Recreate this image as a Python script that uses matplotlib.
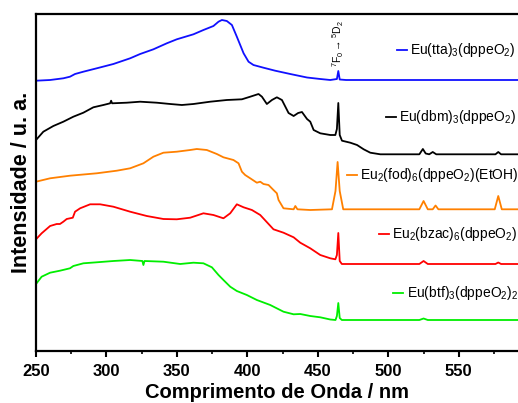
import numpy as np
import matplotlib
matplotlib.use("Agg")
import matplotlib.pyplot as plt
from matplotlib.ticker import MultipleLocator

plt.rcParams["font.family"] = ["Liberation Sans", "DejaVu Sans"]
plt.rcParams["mathtext.fontset"] = "custom"
plt.rcParams["mathtext.rm"] = "Liberation Sans"
plt.rcParams["mathtext.it"] = "Liberation Sans:italic"
plt.rcParams["mathtext.bf"] = "Liberation Sans:bold"

# emission spectra (stacked, arbitrary units)
wl_tta = [250, 260, 269.4, 274.1, 277.7, 283.6, 293.1, 304.9, 316.8, 323.9, 333.3,
          342.8, 349.9, 361.7, 368.8, 375.9, 379.5, 381.9, 385.4, 389, 392.5, 397.3,
          400.8, 404.3, 411.4, 419.7, 430.4, 442.3, 451.7, 458.8, 463.5, 464.5, 465.5,
          470, 520, 592]
I_tta = [270.3, 271, 272.7, 274.3, 277, 279.3, 282.7, 287, 292.7, 297, 301.7,
         307.7, 311.7, 316.7, 321, 325, 329.3, 331, 330, 326, 314.3, 297.7,
         289.3, 286, 283.3, 280.3, 277, 273.5, 272, 271, 272, 280, 271.5,
         271, 271, 271]

wl_dbm = [250, 255.2, 262.3, 269.4, 276.5, 283.6, 290.7, 297.8, 302.6, 303.3, 304,
          314.4, 323.9, 335.7, 345.2, 353.5, 361.7, 373.6, 385.4, 396.1, 402, 407.9,
          410.3, 413.8, 417.4, 420.9, 424.5, 429.2, 432.8, 436, 438.7, 442.3, 444.6, 447,
          451.7, 458.8, 462.4, 463.5, 464.5, 465.5, 467.1, 473, 477.8, 482.5, 487.2,
          494.3, 522, 524.5, 526.5, 529, 531.5, 534, 576, 578, 580, 592]
I_dbm = [211, 219.3, 225, 229.3, 234.3, 238.3, 243.7, 246, 247.7, 250.3, 247.7,
         248.3, 249.3, 248.3, 247, 246, 247, 249.3, 251, 251.7, 254.3, 257,
         254.3, 247, 251, 253.7, 251, 238, 235, 238, 239, 232, 229.3, 221,
         217.7, 216, 216, 222, 248, 216, 210.3, 208.3, 206, 201.7, 198.3,
         196.7, 196.7, 202, 197.5, 196.7, 199, 196.7, 196.7, 199, 196.7, 196.7]

wl_fod = [250, 260, 274.1, 293.1, 307.3, 316.8, 326.2, 333.3, 340.4, 349.9, 359.4,
          364.1, 371.2, 378.3, 383, 390.1, 393.7, 396.1, 398.4, 402, 406.7, 409.1,
          411.4, 415, 418.5, 420.9, 422.1, 425.6, 432.8, 434, 435.5, 444.6, 460,
          462.5, 464, 465.5, 468, 522, 525, 528, 531.5, 533.5, 535.5, 575.5, 578,
          580.5, 592]
I_fod = [169.3, 172.7, 175.3, 177.7, 180.3, 182.7, 187.7, 194.3, 198.3, 199.3, 201,
         202, 201, 197, 193.7, 191, 187.7, 179.3, 176, 172.7, 168.3, 169.3,
         167, 166, 161, 157.7, 151, 142.7, 141.7, 145, 141.7, 141, 141.7,
         160, 189, 160, 141.7, 141.7, 150, 141.7, 141.7, 145.5, 141.7, 141.7, 155,
         141.7, 141.7]

wl_bzac = [250, 254, 260, 264.7, 267, 269.4, 271.8, 276.1, 277.7, 281.3, 288.4,
           295.5, 304.9, 316.8, 328.6, 340.4, 349.9, 359.4, 368.8, 375.9, 383,
           387.8, 392.5, 397.3, 403.2, 409.1, 418.5, 425.6, 432.8, 437.5, 444.6,
           451.7, 458.8, 462.4, 463.5, 464.5, 465.5, 467, 522, 525, 528, 576, 578,
           580, 592]
I_bzac = [111.7, 117.7, 125, 127, 127, 129.3, 132, 133.3, 139.3, 142.7, 146.7,
          146.7, 144.3, 139.3, 135, 132, 131.7, 133.3, 137.7, 136, 132.7,
          137.7, 146.7, 143.7, 141, 136, 121.7, 118.3, 113.7, 108.3, 102.7,
          96, 92.7, 91.7, 96, 118, 90, 87, 87, 90, 87, 87, 88.5,
          87, 87]

wl_btf = [250, 254, 260, 267, 274.1, 276.5, 283.6, 293.1, 304.9, 316.8, 325.5,
          326.2, 327, 340.4, 352.3, 361.7, 368.8, 374.8, 379.5, 383, 387.8, 392.5,
          399.6, 406.7, 416.2, 425.6, 432.8, 437.5, 444.6, 451.7, 458.8, 462.5,
          463.5, 464.5, 465.5, 467, 522, 525, 528, 592]
I_btf = [67, 74.3, 78.3, 80.3, 82.7, 85, 87.7, 88.7, 90, 91, 90,
         86, 90, 89.3, 87, 88.3, 87.7, 83.7, 76, 71, 64.3, 60,
         56, 51, 46, 39.3, 36.7, 37, 35, 33.7, 31.5, 31,
         35, 48, 33, 31, 31, 32.5, 31, 31]

labels = [r"Eu(tta)$_3$(dppeO$_2$)", r"Eu(dbm)$_3$(dppeO$_2$)",
          r"Eu$_2$(fod)$_6$(dppeO$_2$)(EtOH)", r"Eu$_2$(bzac)$_6$(dppeO$_2$)",
          r"Eu(btf)$_3$(dppeO$_2$)$_2$"]
colors = ["#1010ff", "black", "#ff8000", "#ff0000", "#00ee00"]
# where each inline legend sits (left end of the short line, height)
label_x = [506.4, 498.6, 470.9, 493.6, 503.6]
label_y = [301, 234, 176, 117, 58]

curves = [(wl_tta, I_tta), (wl_dbm, I_dbm), (wl_fod, I_fod),
          (wl_bzac, I_bzac), (wl_btf, I_btf)]

fig = plt.figure(figsize=(5.18, 4.03), dpi=100)
ax = fig.add_axes([36 / 518, 52 / 403, 482 / 518, 337 / 403])

for (wl, inten), col, lab, lx, ly in zip(curves, colors, labels, label_x, label_y):
    ax.plot(wl, inten, color=col, lw=1.3)
    ax.plot([lx, lx + 7.1], [ly, ly], color=col, lw=1.3)
    ax.text(lx + 9.3, ly, lab, fontsize=10, va="center", ha="left")

ax.text(464.5, 284, r"$^7$F$_0$$\rightarrow$$^5$D$_2$", rotation=90, fontsize=7.5,
        ha="center", va="bottom")

ax.set_xlim(250, 592)
ax.set_ylim(0, 337)
ax.xaxis.set_major_locator(MultipleLocator(50))
ax.xaxis.set_minor_locator(MultipleLocator(25))
ax.set_yticks([])
ax.tick_params(axis="x", which="major", direction="out", length=4.5, width=1.5,
               labelsize=12, pad=5)
ax.tick_params(axis="x", which="minor", direction="out", length=2.5, width=1.2)
for lbl in ax.get_xticklabels():
    lbl.set_fontweight("bold")
for sp in ax.spines.values():
    sp.set_linewidth(1.6)
ax.spines["right"].set_visible(False)

ax.set_xlabel("Comprimento de Onda / nm", fontsize=14.5, fontweight="bold", labelpad=3)
ax.set_ylabel("Intensidade / u. a.", fontsize=15.5, fontweight="bold", labelpad=3)

fig.savefig("out.png", dpi=100)
